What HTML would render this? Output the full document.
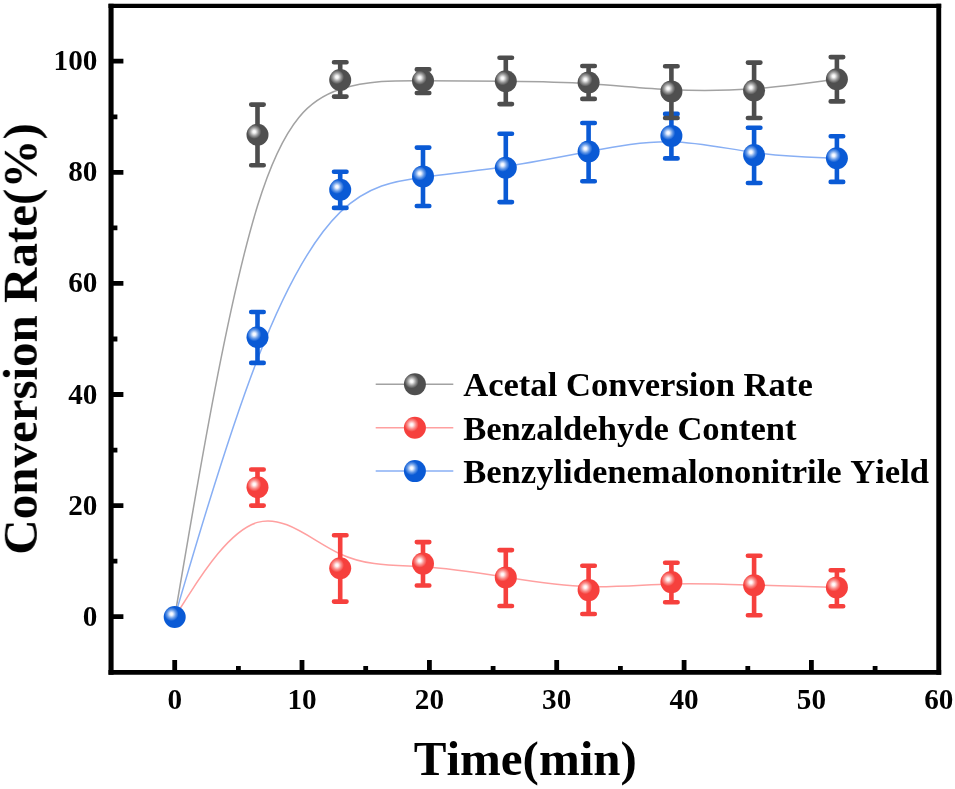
<!DOCTYPE html>
<html><head><meta charset="utf-8"><title>Conversion Rate vs Time</title>
<style>
html,body{margin:0;padding:0;background:#fff;}
body{width:955px;height:789px;overflow:hidden;}
svg{display:block;}
text{font-family:"Liberation Serif",serif;font-weight:bold;fill:#000;font-kerning:none;}
</style></head>
<body>
<svg width="955" height="789" viewBox="0 0 955 789">
<defs>
<radialGradient id="gG" cx="0.352" cy="0.365" r="0.32" fx="0.352" fy="0.365"><stop offset="0" stop-color="#fff"/><stop offset="0.2" stop-color="#f4f4f4"/><stop offset="0.6" stop-color="#9a9a9a"/><stop offset="1" stop-color="#4f4f4f"/></radialGradient>
<radialGradient id="gR" cx="0.352" cy="0.365" r="0.32" fx="0.352" fy="0.365"><stop offset="0" stop-color="#fff"/><stop offset="0.2" stop-color="#fff0f0"/><stop offset="0.6" stop-color="#fa8e8b"/><stop offset="1" stop-color="#f6403d"/></radialGradient>
<radialGradient id="gB" cx="0.352" cy="0.365" r="0.32" fx="0.352" fy="0.365"><stop offset="0" stop-color="#fff"/><stop offset="0.2" stop-color="#eef4ff"/><stop offset="0.6" stop-color="#6a9de8"/><stop offset="1" stop-color="#0a5ad5"/></radialGradient>
</defs>
<rect width="955" height="789" fill="#fff"/>
<!-- series -->
<path d="M174.68 617.00C174.68 617.00 174.68 617.00 188.47 536.62C202.27 456.23 229.86 295.47 257.46 205.97C285.05 116.47 312.64 98.23 340.24 89.23C367.83 80.23 395.42 80.47 423.02 80.67C450.61 80.87 478.20 81.03 505.80 81.33C533.39 81.63 560.98 82.07 588.58 83.77C616.17 85.47 643.76 88.43 671.36 89.77C698.95 91.10 726.54 90.80 754.14 88.77C781.73 86.73 809.32 82.97 823.12 81.08C836.92 79.20 836.92 79.20 836.92 79.20" fill="none" stroke="#a2a2a2" stroke-width="1.5"/>
<path d="M174.68 617.00C174.68 617.00 174.68 617.00 188.47 595.38C202.27 573.77 229.86 530.53 257.46 522.40C285.05 514.27 312.64 541.23 340.24 553.95C367.83 566.67 395.42 565.13 423.02 566.67C450.61 568.20 478.20 572.80 505.80 577.22C533.39 581.63 560.98 585.87 588.58 586.65C616.17 587.43 643.76 584.77 671.36 583.97C698.95 583.17 726.54 584.23 754.14 585.12C781.73 586.00 809.32 586.70 823.12 587.05C836.92 587.40 836.92 587.40 836.92 587.40" fill="none" stroke="#ffa0a0" stroke-width="1.5"/>
<path d="M174.68 617.00C174.68 617.00 174.68 617.00 188.47 570.37C202.27 523.73 229.86 430.47 257.46 359.27C285.05 288.07 312.64 238.93 340.24 212.13C367.83 185.33 395.42 180.87 423.02 177.18C450.61 173.50 478.20 170.60 505.80 166.45C533.39 162.30 560.98 156.90 588.58 151.60C616.17 146.30 643.76 141.10 671.36 141.70C698.95 142.30 726.54 148.70 754.14 152.43C781.73 156.17 809.32 157.23 823.12 157.77C836.92 158.30 836.92 158.30 836.92 158.30" fill="none" stroke="#88aff4" stroke-width="1.5"/>
<path d="M257.5 312.0V362.9M251.2 312.0H263.7M251.2 362.9H263.7M340.2 171.8V207.9M334.0 171.8H346.5M334.0 207.9H346.5M423.0 147.6V206.0M416.8 147.6H429.3M416.8 206.0H429.3M505.8 133.7V202.1M499.5 133.7H512.0M499.5 202.1H512.0M588.6 123.0V181.2M582.3 123.0H594.8M582.3 181.2H594.8M671.4 113.9V158.4M665.1 113.9H677.6M665.1 158.4H677.6M754.1 127.8V183.0M747.9 127.8H760.4M747.9 183.0H760.4M836.9 136.3V181.9M830.7 136.3H843.2M830.7 181.9H843.2" fill="none" stroke="#0a5ad5" stroke-width="4.6" stroke-linecap="round"/>
<path d="M257.5 469.5V505.6M251.2 469.5H263.7M251.2 505.6H263.7M340.2 535.2V601.6M334.0 535.2H346.5M334.0 601.6H346.5M423.0 542.1V585.5M416.8 542.1H429.3M416.8 585.5H429.3M505.8 550.1V606.0M499.5 550.1H512.0M499.5 606.0H512.0M588.6 565.8V614.0M582.3 565.8H594.8M582.3 614.0H594.8M671.4 562.8V602.3M665.1 562.8H677.6M665.1 602.3H677.6M754.1 555.7V615.3M747.9 555.7H760.4M747.9 615.3H760.4M836.9 570.3V606.2M830.7 570.3H843.2M830.7 606.2H843.2" fill="none" stroke="#f6403d" stroke-width="4.6" stroke-linecap="round"/>
<path d="M257.5 104.6V165.3M251.2 104.6H263.7M251.2 165.3H263.7M340.2 62.2V96.6M334.0 62.2H346.5M334.0 96.6H346.5M423.0 69.4V93.0M416.8 69.4H429.3M416.8 93.0H429.3M505.8 57.8V104.1M499.5 57.8H512.0M499.5 104.1H512.0M588.6 66.0V98.9M582.3 66.0H594.8M582.3 98.9H594.8M671.4 66.3V118.0M665.1 66.3H677.6M665.1 118.0H677.6M754.1 62.6V118.0M747.9 62.6H760.4M747.9 118.0H760.4M836.9 57.1V101.4M830.7 57.1H843.2M830.7 101.4H843.2" fill="none" stroke="#4d4d4d" stroke-width="4.6" stroke-linecap="round"/>
<circle cx="257.5" cy="134.7" r="11.0" fill="url(#gG)"/>
<circle cx="340.2" cy="80.0" r="11.0" fill="url(#gG)"/>
<circle cx="423.0" cy="80.7" r="11.0" fill="url(#gG)"/>
<circle cx="505.8" cy="81.2" r="11.0" fill="url(#gG)"/>
<circle cx="588.6" cy="82.5" r="11.0" fill="url(#gG)"/>
<circle cx="671.4" cy="91.4" r="11.0" fill="url(#gG)"/>
<circle cx="754.1" cy="90.5" r="11.0" fill="url(#gG)"/>
<circle cx="836.9" cy="79.2" r="11.0" fill="url(#gG)"/>
<circle cx="257.5" cy="487.3" r="11.0" fill="url(#gR)"/>
<circle cx="340.2" cy="568.2" r="11.0" fill="url(#gR)"/>
<circle cx="423.0" cy="563.6" r="11.0" fill="url(#gR)"/>
<circle cx="505.8" cy="577.4" r="11.0" fill="url(#gR)"/>
<circle cx="588.6" cy="590.1" r="11.0" fill="url(#gR)"/>
<circle cx="671.4" cy="582.1" r="11.0" fill="url(#gR)"/>
<circle cx="754.1" cy="585.3" r="11.0" fill="url(#gR)"/>
<circle cx="836.9" cy="587.4" r="11.0" fill="url(#gR)"/>
<circle cx="174.7" cy="617.0" r="11.0" fill="url(#gB)"/>
<circle cx="257.5" cy="337.2" r="11.0" fill="url(#gB)"/>
<circle cx="340.2" cy="189.8" r="11.0" fill="url(#gB)"/>
<circle cx="423.0" cy="176.4" r="11.0" fill="url(#gB)"/>
<circle cx="505.8" cy="167.7" r="11.0" fill="url(#gB)"/>
<circle cx="588.6" cy="151.5" r="11.0" fill="url(#gB)"/>
<circle cx="671.4" cy="135.9" r="11.0" fill="url(#gB)"/>
<circle cx="754.1" cy="155.1" r="11.0" fill="url(#gB)"/>
<circle cx="836.9" cy="158.3" r="11.0" fill="url(#gB)"/>
<!-- axes -->
<path d="M108.5 5.8H941.2" stroke="#000" stroke-width="4.3"/>
<path d="M108.5 672.3H941.2" stroke="#000" stroke-width="4.8"/>
<path d="M111.05 3.65V674.7" stroke="#000" stroke-width="5.1"/>
<path d="M938.75 3.65V674.7" stroke="#000" stroke-width="4.9"/>
<path d="M174.7 672.3v-12.4M302.0 672.3v-12.4M429.4 672.3v-12.4M556.7 672.3v-12.4M684.1 672.3v-12.4M811.4 672.3v-12.4M238.4 672.3v-6.4M365.7 672.3v-6.4M493.1 672.3v-6.4M620.4 672.3v-6.4M747.8 672.3v-6.4M875.1 672.3v-6.4M111.0 616.7h12.4M111.0 505.6h12.4M111.0 394.5h12.4M111.0 283.4h12.4M111.0 172.3h12.4M111.0 61.2h12.4M111.0 561.2h6.4M111.0 450.1h6.4M111.0 339.0h6.4M111.0 227.9h6.4M111.0 116.8h6.4" stroke="#000" stroke-width="4.8" fill="none"/>
<!-- labels -->
<g opacity="0.999">
<text x="174.7" y="709.3" text-anchor="middle" font-size="29.2">0</text>
<text x="302.0" y="709.3" text-anchor="middle" font-size="29.2">10</text>
<text x="429.4" y="709.3" text-anchor="middle" font-size="29.2">20</text>
<text x="556.7" y="709.3" text-anchor="middle" font-size="29.2">30</text>
<text x="684.1" y="709.3" text-anchor="middle" font-size="29.2">40</text>
<text x="811.4" y="709.3" text-anchor="middle" font-size="29.2">50</text>
<text x="938.8" y="709.3" text-anchor="middle" font-size="29.2">60</text>
<text x="97.4" y="625.7" text-anchor="end" font-size="29.2">0</text>
<text x="97.4" y="514.6" text-anchor="end" font-size="29.2">20</text>
<text x="97.4" y="403.5" text-anchor="end" font-size="29.2">40</text>
<text x="97.4" y="292.4" text-anchor="end" font-size="29.2">60</text>
<text x="97.4" y="181.3" text-anchor="end" font-size="29.2">80</text>
<text x="97.4" y="70.2" text-anchor="end" font-size="29.2">100</text>
<text x="525.3" y="775.2" text-anchor="middle" font-size="49">Time(min)</text>
<text transform="translate(36.8,339) rotate(-90)" text-anchor="middle" font-size="49">Conversion Rate(%)</text>
</g>
<!-- legend -->
<g opacity="0.999">
<path d="M375.7 384.3H453.3" stroke="#a2a2a2" stroke-width="1.5"/>
<circle cx="414.9" cy="384.3" r="11.0" fill="url(#gG)"/>
<text x="463.2" y="396.3" font-size="34.6">Acetal Conversion Rate</text>
<path d="M375.7 427.7H453.3" stroke="#ffa0a0" stroke-width="1.5"/>
<circle cx="414.9" cy="427.7" r="11.0" fill="url(#gR)"/>
<text x="463.2" y="439.7" font-size="34.6">Benzaldehyde Content</text>
<path d="M375.7 471.1H453.3" stroke="#88aff4" stroke-width="1.5"/>
<circle cx="414.9" cy="471.1" r="11.0" fill="url(#gB)"/>
<text x="463.2" y="483.1" font-size="34.6">Benzylidenemalononitrile Yield</text>
</g>
</svg>
</body></html>
